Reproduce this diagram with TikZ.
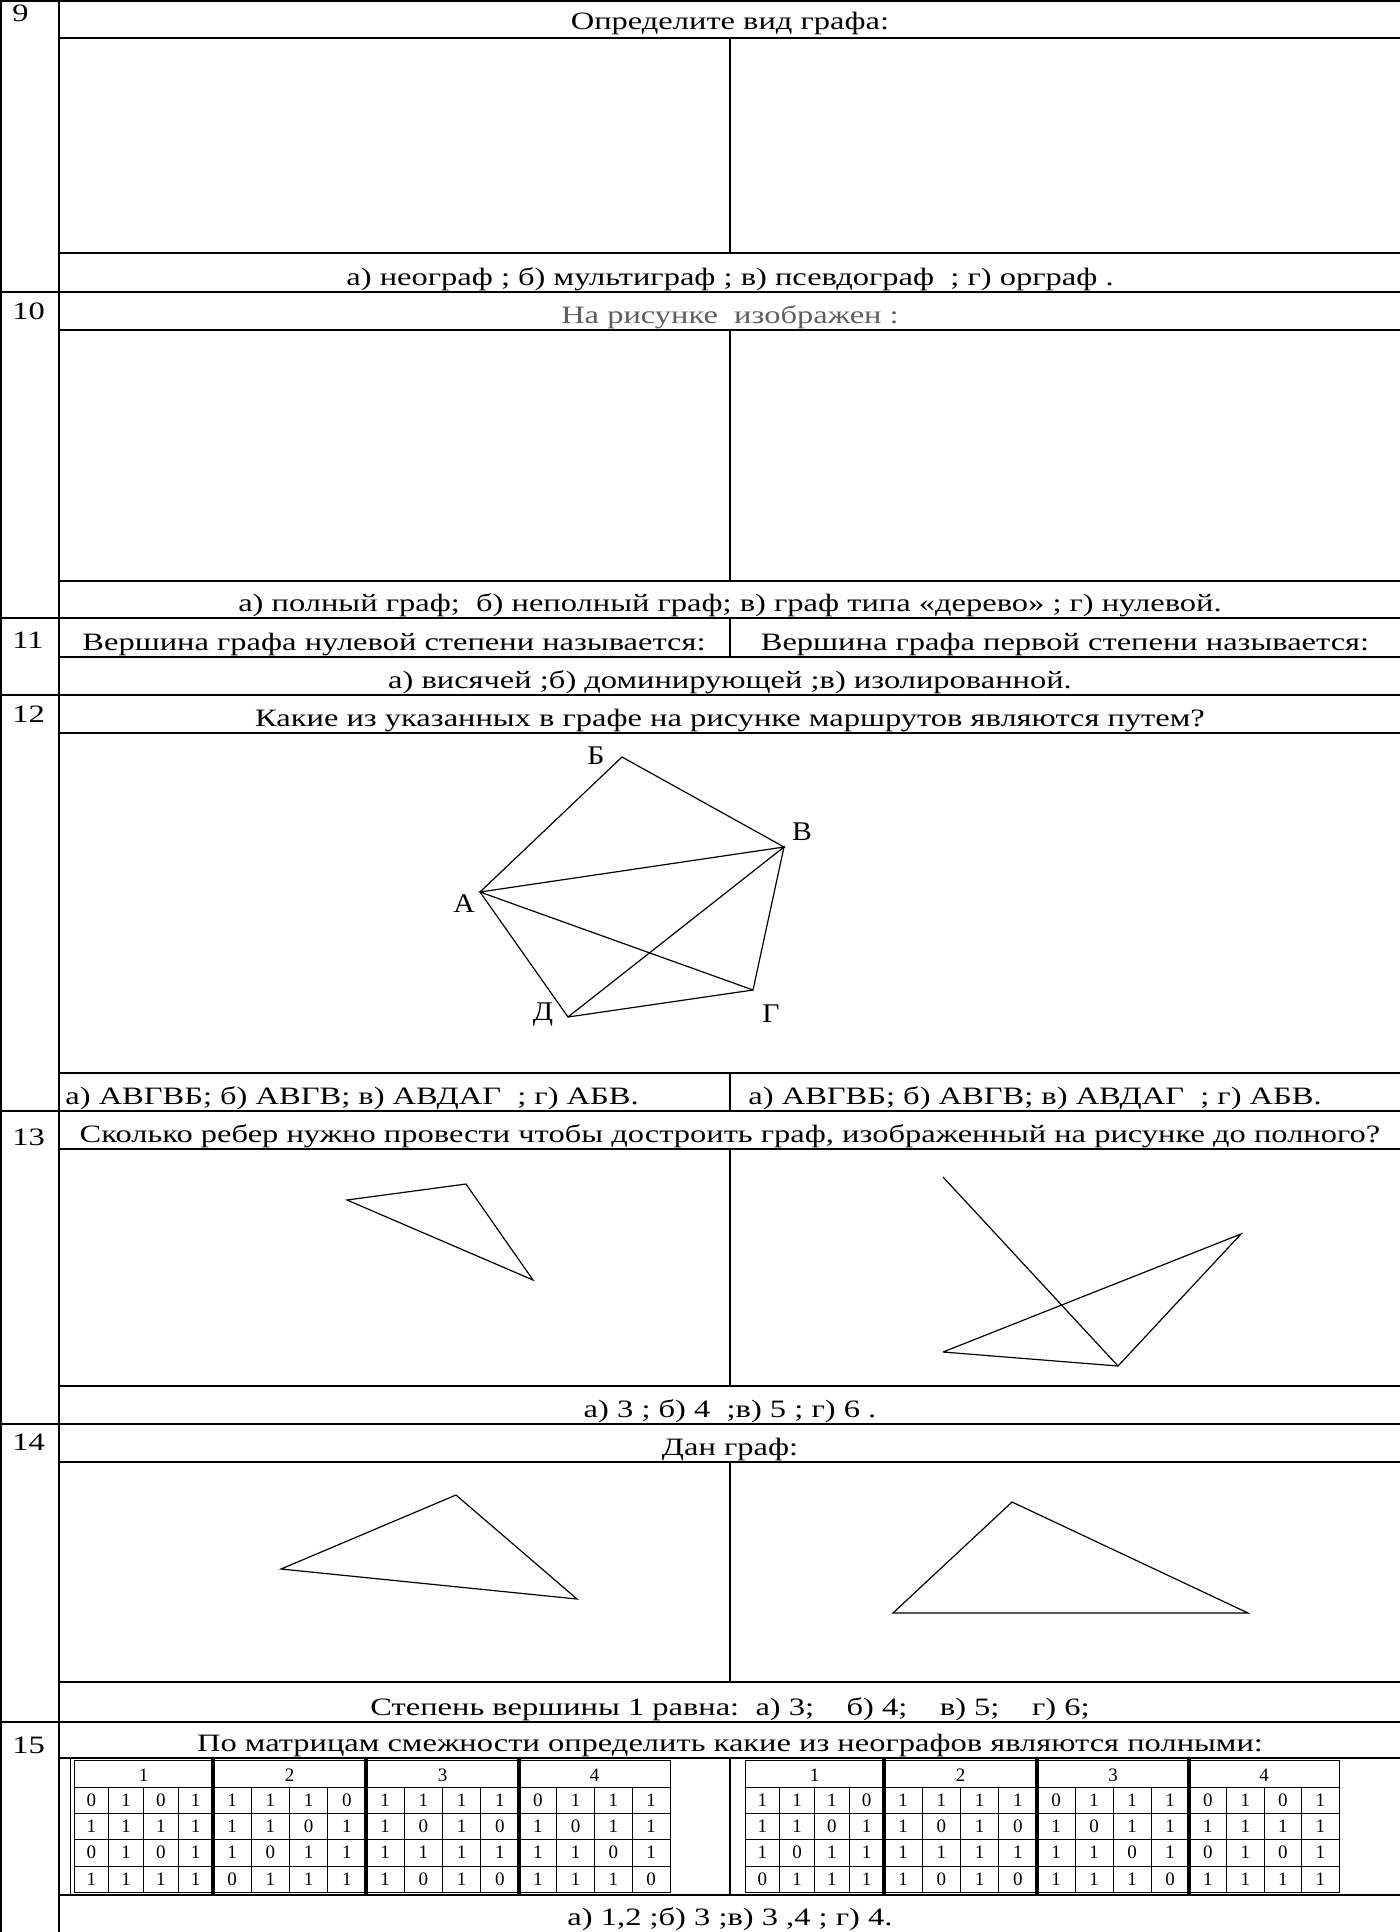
\documentclass[tikz,border=0pt]{standalone}
\usepackage{fontspec}
\setmainfont{Liberation Serif}
\usepackage{graphicx}
\newcommand{\wx}[1]{\scalebox{1.3}[1]{#1}}
\newcommand{\wl}[1]{\scalebox{1.1}[1]{#1}}
\definecolor{greytxt}{RGB}{95,95,95}
\newcommand{\admat}[8]{%
  \draw[mthin] (#2,1760) rectangle ({#2+#3},1892);
  \draw[mthin] (#2,1787) -- ({#2+#3},1787);
  \foreach \yy in {1813,1839,1866} \draw[mthin] (#2,\yy) -- ({#2+#3},\yy);
  \foreach \k in {1,2,3} \draw[mthin] ({#2+\k*#3/4},1787) -- ({#2+\k*#3/4},1892);
  \node[mc] (#1h) at ({#2+#3/2},1781) {#4};
  \foreach \v [count=\c] in {#5} \node[mc] (#1a\c) at ({#2+(\c-0.5)*#3/4},1806) {\v};
  \foreach \v [count=\c] in {#6} \node[mc] (#1b\c) at ({#2+(\c-0.5)*#3/4},1832) {\v};
  \foreach \v [count=\c] in {#7} \node[mc] (#1c\c) at ({#2+(\c-0.5)*#3/4},1858) {\v};
  \foreach \v [count=\c] in {#8} \node[mc] (#1d\c) at ({#2+(\c-0.5)*#3/4},1885) {\v};
}
\begin{document}
\begin{tikzpicture}[x=0.5pt,y=-0.5pt,
  hl/.style={line width=1.4pt},
  vl/.style={line width=0.8pt},
  ed/.style={line width=0.6pt},
  txt/.style={anchor=base,inner sep=0pt,font=\fontsize{12.5}{14}\selectfont},
  ltxt/.style={anchor=base west,inner sep=0pt,font=\fontsize{12.5}{14}\selectfont},
  num/.style={anchor=base west,inner sep=0pt,font=\fontsize{12.5}{14}\selectfont},
  lbl/.style={anchor=base,inner sep=0pt,font=\fontsize{13.5}{15}\selectfont},
  mc/.style={anchor=base,inner sep=0pt,font=\fontsize{9.5}{10}\selectfont},
  mthin/.style={line width=0.5pt},
  mthick/.style={line width=2pt}]
\useasboundingbox (0,0) rectangle (1400,1932);
\fill[white] (0,0) rectangle (1400,1932);

% ---------- table frame ----------
\draw[vl] (0,0.8) -- (1400,0.8);
\draw[vl] (1,0) -- (1,1932);
\draw[vl] (59,0) -- (59,1932);
\foreach \yy in {292,618,695,1111,1424,1722} \draw[hl] (0,\yy) -- (1400,\yy);
\foreach \yy in {38,253,330,581,657,733,1073,1149,1386,1462,1682,1758,1895} \draw[hl] (59,\yy) -- (1400,\yy);
\foreach \ya/\yb in {38/253,330/581,618/657,1073/1111,1149/1386,1462/1682,1758/1895} \draw[vl] (730,\ya) -- (730,\yb);

% ---------- numbers ----------
\node[num] (n9)  at (12,22)   {\wx{9}};
\node[num] (n10) at (12,319)  {\wx{10}};
\node[num] (n11) at (12,648)  {\wx{11}};
\node[num] (n12) at (12,722)  {\wx{12}};
\node[num] (n13) at (12,1145) {\wx{13}};
\node[num] (n14) at (12,1450) {\wx{14}};
\node[num] (n15) at (12,1753) {\wx{15}};

% ---------- row 9 ----------
\node[txt] (h9) at (730,30) {\wx{Определите вид графа:}};
\node[txt] (a9) at (730,285) {\wx{а) неограф ; б) мультиграф ; в) псевдограф\ \ ; г) орграф .}};

% ---------- row 10 ----------
\node[txt,text=greytxt] (h10) at (730,323) {\wx{На рисунке\ \ изображен :}};
\node[txt] (a10) at (730,611) {\wx{а) полный граф;\ \ б) неполный граф; в) граф типа «дерево» ; г) нулевой.}};

% ---------- row 11 ----------
\node[txt] (l11) at (394,650) {\wx{Вершина графа нулевой степени называется:}};
\node[txt] (r11) at (1065,650) {\wx{Вершина графа первой степени называется:}};
\node[txt] (a11) at (730,688) {\wx{а) висячей ;б) доминирующей ;в) изолированной.}};

% ---------- row 12 ----------
\node[txt] (h12) at (730,726) {\wx{Какие из указанных в графе на рисунке маршрутов являются путем?}};
\coordinate (A) at (480,892);
\coordinate (B) at (622,757);
\coordinate (V) at (784,847);
\coordinate (G) at (753,990);
\coordinate (D) at (568,1017);
\draw[ed] (A) -- (B) -- (V) -- (A) -- (G) -- (V) -- (D) -- (A);
\draw[ed] (D) -- (G);
\node[lbl] (lB) at (596,764)  {\wl{Б}};
\node[lbl] (lV) at (802,840)  {\wl{В}};
\node[lbl] (lA) at (464,912)  {\wl{А}};
\node[lbl] (lD) at (543,1020) {\wl{Д}};
\node[lbl] (lG) at (771,1022) {\wl{Г}};
\node[ltxt] (la12) at (65,1104)  {\wx{а) АВГВБ; б) АВГВ; в) АВДАГ\ \ ; г) АБВ.}};
\node[ltxt] (ra12) at (748,1104) {\wx{а) АВГВБ; б) АВГВ; в) АВДАГ\ \ ; г) АБВ.}};

% ---------- row 13 ----------
\node[txt] (h13) at (730,1142) {\wx{Сколько ребер нужно провести чтобы достроить граф, изображенный на рисунке до полного?}};
\coordinate (t1) at (347,1200);
\coordinate (t2) at (466,1184);
\coordinate (t3) at (533,1280);
\draw[ed] (t1) -- (t2) -- (t3) -- cycle;
\coordinate (p1) at (943,1177);
\coordinate (p2) at (943,1352);
\coordinate (p3) at (1118,1366);
\coordinate (p4) at (1241,1234);
\draw[ed] (p1) -- (p3);
\draw[ed] (p2) -- (p4) -- (p3) -- (p2);
\node[txt] (a13) at (730,1417) {\wx{а) 3 ; б) 4\ \ ;в) 5 ; г) 6 .}};

% ---------- row 14 ----------
\node[txt] (h14) at (730,1455) {\wx{Дан граф:}};
\coordinate (q1) at (456,1495);
\coordinate (q2) at (281,1569);
\coordinate (q3) at (577,1599);
\draw[ed] (q1) -- (q2) -- (q3) -- cycle;
\coordinate (s1) at (1012,1502);
\coordinate (s2) at (893,1613);
\coordinate (s3) at (1248,1613);
\draw[ed] (s1) -- (s2) -- (s3) -- cycle;
\node[txt] (a14) at (730,1715) {\wx{Степень вершины 1 равна:\ \ а) 3;\ \ \ \ б) 4;\ \ \ \ в) 5;\ \ \ \ г) 6;}};

% ---------- row 15 ----------
\node[txt] (h15) at (730,1751) {\wx{По матрицам смежности определить какие из неографов являются полными:}};
\draw[mthin] (70,1758) -- (70,1895);
\admat{LA}{74}{139}{1}{0,1,0,1}{1,1,1,1}{0,1,0,1}{1,1,1,1}
\admat{LB}{213}{153}{2}{1,1,1,0}{1,1,0,1}{1,0,1,1}{0,1,1,1}
\admat{LC}{366}{153}{3}{1,1,1,1}{1,0,1,0}{1,1,1,1}{1,0,1,0}
\admat{LD}{519}{151}{4}{0,1,1,1}{1,0,1,1}{1,1,0,1}{1,1,1,0}
\foreach \xx in {213,366,519} \draw[mthick] (\xx,1758) -- (\xx,1895);
\admat{RA}{745}{139}{1}{1,1,1,0}{1,1,0,1}{1,0,1,1}{0,1,1,1}
\admat{RB}{884}{153}{2}{1,1,1,1}{1,0,1,0}{1,1,1,1}{1,0,1,0}
\admat{RC}{1037}{152}{3}{0,1,1,1}{1,0,1,1}{1,1,0,1}{1,1,1,0}
\admat{RD}{1189}{150}{4}{0,1,0,1}{1,1,1,1}{0,1,0,1}{1,1,1,1}
\foreach \xx in {884,1037,1189} \draw[mthick] (\xx,1758) -- (\xx,1895);
\node[txt] (a15) at (730,1925) {\wx{а) 1,2 ;б) 3 ;в) 3 ,4 ; г) 4.}};
\end{tikzpicture}
\end{document}
